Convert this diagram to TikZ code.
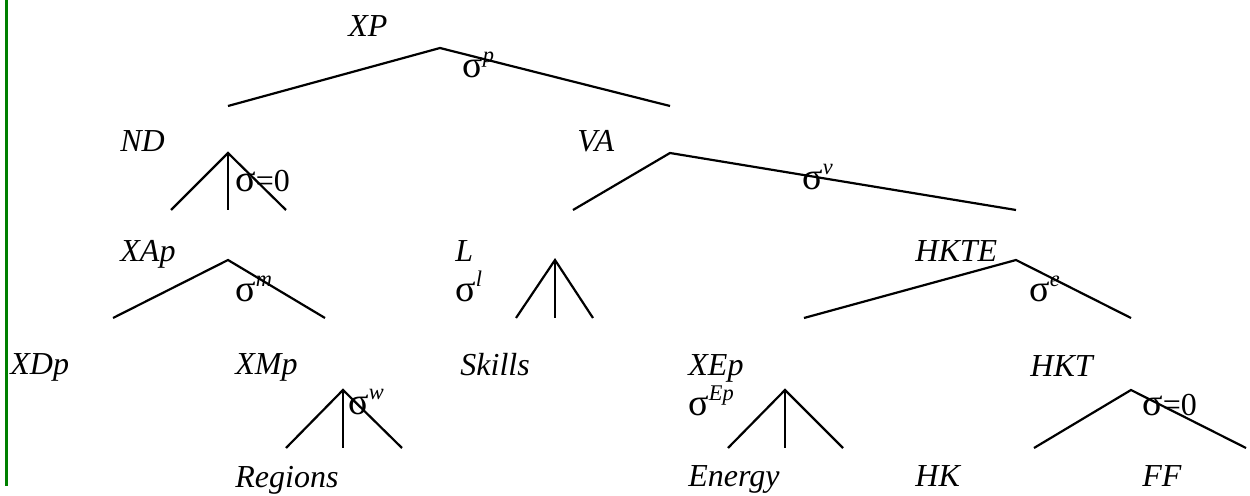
\documentclass[tikz,border=0pt]{standalone}
\usepackage{fontspec}
\setmainfont{Liberation Serif}
\usetikzlibrary{positioning}
\newcommand{\sgm}{{\fontsize{19}{19}\selectfont σ}}
\newcommand{\sgsup}[1]{\raisebox{1.5pt}{\textsuperscript{\itshape #1}}}

\begin{document}
\begin{tikzpicture}[x=0.5pt, y=-0.5pt, font=\fontsize{16}{19}\selectfont,
    cat/.style={anchor=base west, inner sep=0pt, font=\fontsize{16}{19}\selectfont\itshape},
    sig/.style={anchor=base west, inner sep=0pt},
    branch/.style={line width=1.1pt, line join=miter}]

    % --- DEFINITIONS ---
    \definecolor{margin}{RGB}{0, 128, 0} % Green rule
    \useasboundingbox (0,0) rectangle (1250,496);
    \draw[margin, line width=1.5pt] (6.5,0) -- (6.5,486);

    % --- LEVEL 1: XP ---
    \node[cat] (xp) at (348,37) {XP};
    \node[sig] (sigp) at (462,78) {\sgm\sgsup{p}};
    \coordinate (xp-top) at (440,48);
    \coordinate (xp-l) at (228,106);
    \coordinate (xp-r) at (670,106);
    \draw[branch] (xp-l) -- (xp-top) -- (xp-r);

    % --- LEVEL 2: ND and VA ---
    \node[cat] (nd) at (120,152) {ND};
    \node[sig] (sig0a) at (235,192) {\sgm=0};
    \coordinate (nd-top) at (228,153);
    \coordinate (nd-l) at (171,210);
    \coordinate (nd-m) at (228,210);
    \coordinate (nd-r) at (286,210);
    \draw[branch] (nd-l) -- (nd-top) -- (nd-r);
    \draw[branch] (nd-top) -- (nd-m);

    \node[cat] (va) at (577,152) {VA};
    \node[sig] (sigv) at (802,190) {\sgm\sgsup{v}};
    \coordinate (va-top) at (670,153);
    \coordinate (va-l) at (573,210);
    \coordinate (va-r) at (1016,210);
    \draw[branch] (va-l) -- (va-top) -- (va-r);

    % --- LEVEL 3: XAp, L, HKTE ---
    \node[cat] (xap) at (120,262) {XAp};
    \node[sig] (sigm) at (235,302) {\sgm\sgsup{m}};
    \coordinate (xap-top) at (228,260);
    \coordinate (xap-l) at (113,318);
    \coordinate (xap-r) at (325,318);
    \draw[branch] (xap-l) -- (xap-top) -- (xap-r);

    \node[cat] (l) at (455,262) {L};
    \node[sig] (sigl) at (455,302) {\sgm\sgsup{l}};
    \coordinate (l-top) at (555,260);
    \coordinate (l-l) at (516,318);
    \coordinate (l-m) at (555,318);
    \coordinate (l-r) at (593,318);
    \draw[branch] (l-l) -- (l-top) -- (l-r);
    \draw[branch] (l-top) -- (l-m);

    \node[cat] (hkte) at (915,262) {HKTE};
    \node[sig] (sige) at (1029,302) {\sgm\sgsup{e}};
    \coordinate (hkte-top) at (1016,260);
    \coordinate (hkte-l) at (804,318);
    \coordinate (hkte-r) at (1131,318);
    \draw[branch] (hkte-l) -- (hkte-top) -- (hkte-r);

    % --- LEVEL 4: XDp, XMp, Skills, XEp, HKT ---
    \node[cat] (xdp) at (10,375) {XDp};

    \node[cat] (xmp) at (235,375) {XMp};
    \node[sig] (sigw) at (348,415) {\sgm\sgsup{w}};
    \coordinate (xmp-top) at (343,390);
    \coordinate (xmp-l) at (286,448);
    \coordinate (xmp-m) at (343,448);
    \coordinate (xmp-r) at (402,448);
    \draw[branch] (xmp-l) -- (xmp-top) -- (xmp-r);
    \draw[branch] (xmp-top) -- (xmp-m);

    \node[cat] (skills) at (460,376) {Skills};

    \node[cat] (xep) at (688,376) {XEp};
    \node[sig] (sigep) at (688,416) {\sgm\sgsup{Ep}};
    \coordinate (xep-top) at (785,390);
    \coordinate (xep-l) at (728,448);
    \coordinate (xep-m) at (785,448);
    \coordinate (xep-r) at (843,448);
    \draw[branch] (xep-l) -- (xep-top) -- (xep-r);
    \draw[branch] (xep-top) -- (xep-m);

    \node[cat] (hkt) at (1030,377) {HKT};
    \node[sig] (sig0b) at (1142,416) {\sgm=0};
    \coordinate (hkt-top) at (1131,390);
    \coordinate (hkt-l) at (1034,448);
    \coordinate (hkt-r) at (1246,448);
    \draw[branch] (hkt-l) -- (hkt-top) -- (hkt-r);

    % --- LEVEL 5: leaves ---
    \node[cat] (regions) at (235,488) {Regions};
    \node[cat] (energy) at (688,487) {Energy};
    \node[cat] (hk) at (915,487) {HK};
    \node[cat] (ff) at (1142,487) {FF};
\end{tikzpicture}
\end{document}
